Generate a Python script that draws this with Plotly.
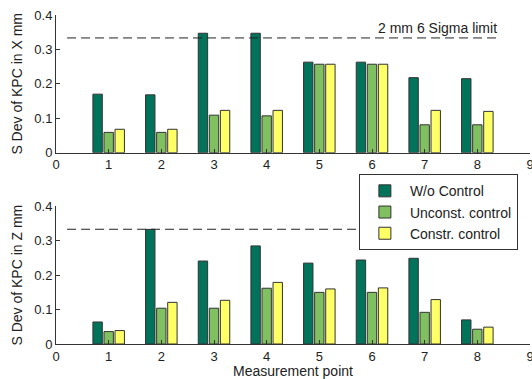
import plotly.graph_objects as go

points = [1, 2, 3, 4, 5, 6, 7, 8]
x_wo = [0.170, 0.168, 0.347, 0.347, 0.263, 0.263, 0.218, 0.215]
x_unc = [0.059, 0.059, 0.109, 0.107, 0.257, 0.257, 0.081, 0.081]
x_con = [0.068, 0.068, 0.123, 0.123, 0.257, 0.257, 0.123, 0.120]
z_wo = [0.064, 0.333, 0.241, 0.285, 0.235, 0.244, 0.249, 0.070]
z_unc = [0.036, 0.104, 0.104, 0.162, 0.150, 0.150, 0.092, 0.043]
z_con = [0.039, 0.121, 0.127, 0.179, 0.160, 0.163, 0.129, 0.049]
limit = 2 / 6
names = ["W/o Control", "Unconst. control", "Constr. control"]
colors = ["#00735A", "#80C060", "#FFFF66"]
xticks = list(range(0, 10))
yticks = [0, 0.1, 0.2, 0.3, 0.4]

fig = go.Figure()
for vals, name, col in zip([x_wo, x_unc, x_con], names, colors):
    fig.add_trace(go.Bar(x=points, y=vals, name=name, marker=dict(color=col, line=dict(color="#333333", width=1)),
                         xaxis="x", yaxis="y", showlegend=True))
for vals, name, col in zip([z_wo, z_unc, z_con], names, colors):
    fig.add_trace(go.Bar(x=points, y=vals, name=name, marker=dict(color=col, line=dict(color="#333333", width=1)),
                         xaxis="x2", yaxis="y2", showlegend=False))

fam = "Liberation Sans, Arial, sans-serif"
tickfont = dict(family=fam, size=13, color="#222222")
font = dict(family=fam, size=14, color="#222222")
axcommon = dict(showgrid=False, zeroline=False, showline=True, linecolor="#333333", linewidth=1,
                ticks="inside", ticklen=4, tickcolor="#333333", tickfont=tickfont, mirror=False,
                automargin=False, ticklabeloverflow="allow")

fig.update_layout(
    width=532, height=379,
    margin=dict(l=56, r=2, t=15, b=35),
    paper_bgcolor="white", plot_bgcolor="white",
    barmode="group", bargap=0.37, bargroupgap=0.15,
    font=font,
    xaxis=dict(domain=[0, 1], range=[0, 9], tickvals=xticks, anchor="y", **axcommon),
    yaxis=dict(domain=[0.5815, 1], range=[0, 0.4], tickvals=yticks, anchor="x",
               title=dict(text="S Dev of KPC in X mm", font=font, standoff=8), **axcommon),
    xaxis2=dict(domain=[0, 1], range=[0, 9], tickvals=xticks, anchor="y2",
                title=dict(text="Measurement point", font=font, standoff=0), **axcommon),
    yaxis2=dict(domain=[0, 0.4185], range=[0, 0.4], tickvals=yticks, anchor="x2",
                title=dict(text="S Dev of KPC in Z mm", font=font, standoff=8), **axcommon),
    legend=dict(x=0.639, y=0.516, xanchor="left", yanchor="top", bgcolor="white",
                bordercolor="#333333", borderwidth=1, font=font, tracegroupgap=0,
                itemwidth=40),
)

for xa, ya in [("x", "y"), ("x2", "y2")]:
    fig.add_shape(type="line", xref=xa, yref=ya, x0=0.21, x1=8.42, y0=limit, y1=limit,
                  line=dict(color="#222222", width=1, dash="9px,5px"))

fig.add_annotation(x=8.42, y=limit, xref="x", yref="y", text="2 mm 6 Sigma limit", showarrow=False,
                   xanchor="right", yanchor="bottom", yshift=0, font=font)

fig.write_html("out.html", config={"displayModeBar": False},
               post_script="document.body.style.margin='0';document.body.style.overflow='hidden';")
